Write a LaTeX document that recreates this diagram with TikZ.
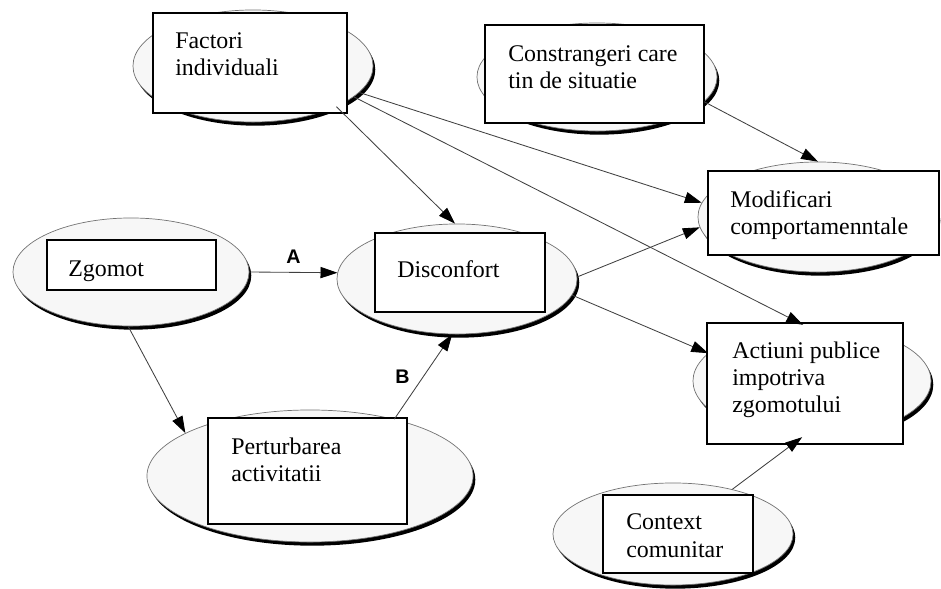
\documentclass[tikz,border=0pt]{standalone}
\usepackage{fontspec}
\setmainfont{Liberation Serif}
\setsansfont{Liberation Sans}
\usetikzlibrary{shapes.geometric,shadows,arrows.meta}

\tikzset{
  blob/.style={ellipse, draw=black!55, line width=0.5pt, fill=gray!6, inner sep=0pt,
    drop shadow={shadow xshift=1.6pt, shadow yshift=-2.6pt, fill=black, opacity=1}},
  panel/.style={rectangle, draw=black, line width=0.8pt, fill=white, inner sep=0pt},
  txt/.style={anchor=base west, align=left, inner sep=0pt, font=\fontsize{17}{19.5}\selectfont},
  link/.style={draw=black!75, line width=0.6pt, -{Triangle[length=12pt,width=8pt,color=black]}},
  tag/.style={font=\sffamily\bfseries\fontsize{14}{16}\selectfont}
}

\begin{document}
\begin{tikzpicture}[x=0.025cm, y=-0.025cm]

  \useasboundingbox (0,0) rectangle (941,589);

  \node[blob, minimum width=6cm, minimum height=2.8cm] (F) at (253,66) {};
  \node[blob, minimum width=6cm, minimum height=2.7cm] (C) at (597,77) {};
  \node[blob, minimum width=6cm, minimum height=2.75cm] (M) at (818,217) {};
  \node[blob, minimum width=5.9cm, minimum height=2.7cm] (Z) at (131,272) {};
  \node[blob, minimum width=6cm, minimum height=2.75cm] (D) at (457,279) {};
  \node[blob, minimum width=8.15cm, minimum height=3.3cm] (P) at (310,476) {};
  \node[blob, minimum width=5.95cm, minimum height=2.8cm] (Ac) at (812,381) {};
  \node[blob, minimum width=6cm, minimum height=2.55cm] (Cc) at (673,534) {};

  \node[panel, minimum width=4.85cm, minimum height=2.5cm] (Fb) at (250,63) {};
  \node[panel, minimum width=5.475cm, minimum height=2.45cm] (Cb) at (594.5,74) {};
  \node[panel, minimum width=5.775cm, minimum height=2.1cm] (Mb) at (823.5,213) {};
  \node[panel, minimum width=4.225cm, minimum height=1.25cm] (Zb) at (131.5,265) {};
  \node[panel, minimum width=4.25cm, minimum height=1.975cm] (Db) at (460,272.5) {};
  \node[panel, minimum width=4.975cm, minimum height=2.65cm] (Pb) at (307.5,471) {};
  \node[panel, minimum width=4.9cm, minimum height=3.025cm] (Acb) at (805,383.5) {};
  \node[panel, minimum width=3.75cm, minimum height=1.95cm] (Ccb) at (678,534) {};

  \node[txt] (Ft) at (175,76) {Factori\\individuali};
  \node[txt] (Ct) at (508,89) {Constrangeri care\\tin de situatie};
  \node[txt] (Mt) at (730,235) {Modificari\\comportamenntale};
  \node[txt] (Zt) at (68,277) {Zgomot};
  \node[txt] (Dt) at (397,278) {Disconfort};
  \node[txt] (Pt) at (231,482) {Perturbarea\\activitatii};
  \node[txt] (Act) at (732,413) {Actiuni publice\\impotriva\\zgomotului};
  \node[txt] (Cct) at (626,557) {Context\\comunitar};

  \draw[link] (F.-14) -- (M.173);
  \draw[link] (F.-17) -- (Ac.99);
  \draw[link] (F.-26) -- (D.92);
  \draw[link] (C.-13) -- (M.90);
  \draw[link] (Z.0) -- node[tag, above=3pt] {A} (D.177);
  \draw[link] (Z.-93) -- (P.161);
  \draw[link] (P.34) -- node[tag, left=6pt] {B} (D.-95);
  \draw[link] (D.1) -- (M.-175);
  \draw[link] (D.-8) -- (Ac.165);
  \draw[link] (Cc.37) -- (Ac.-100);

\end{tikzpicture}
\end{document}
